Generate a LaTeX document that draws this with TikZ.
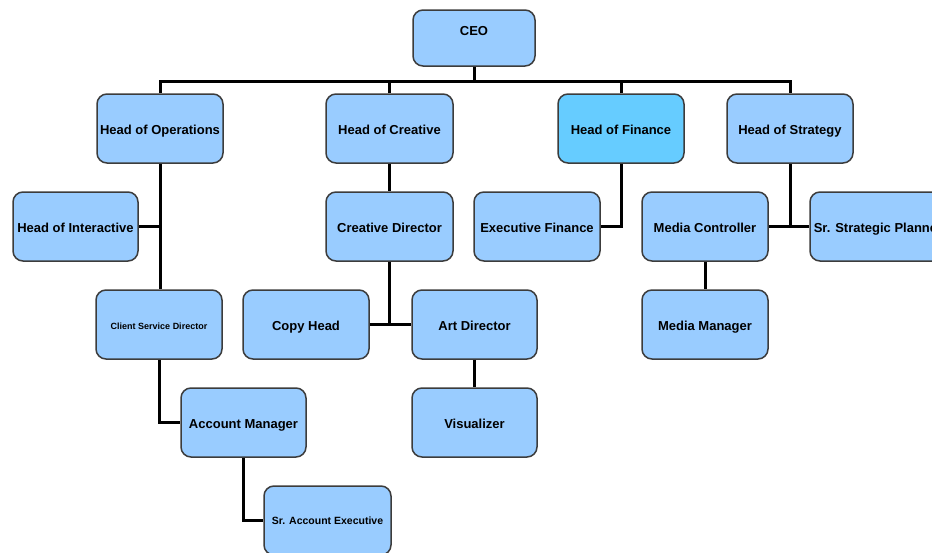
\documentclass[tikz,border=0pt]{standalone}
\usepackage{fontspec}
\setmainfont{Liberation Sans}
\definecolor{boxfill}{HTML}{99CCFF}
\definecolor{finfill}{HTML}{66CCFF}
\definecolor{boxline}{HTML}{3C3C3C}
\tikzset{
  box/.style={draw=boxline, line width=1.5pt, fill=boxfill, rounded corners=10pt,
    minimum width=126pt, minimum height=69pt, inner sep=0pt, align=center,
    text height=14pt, text depth=2.6pt,
    font=\fontsize{13}{15}\selectfont\bfseries},
  smallbox/.style={box, text height=10.8pt, text depth=1.8pt, font=\fontsize{9}{11}\selectfont\bfseries},
  midbox/.style={box, text height=10.7pt, text depth=2.1pt, font=\fontsize{10.5}{12}\selectfont\bfseries},
  link/.style={draw=black, line width=3pt}
}
\begin{document}
\begin{tikzpicture}[x=1pt,y=-1pt]
\useasboundingbox (0,0) rectangle (932,552);
% row 0
\node[box, minimum width=122pt, minimum height=56pt,
  label={[font=\fontsize{13}{15}\selectfont\bfseries, yshift=7pt]center:CEO}] (ceo) at (474,38) {};
% row 1
\node[box] (hop) at (160,128.5) {Head of Operations};
\node[box, minimum width=127pt] (hoc) at (389.5,128.5) {Head of Creative};
\node[box, fill=finfill] (hof) at (621,128.5) {Head of Finance};
\node[box] (hos) at (790,128.5) {Head of Strategy};
% row 2
\node[box, minimum width=125pt] (hoi) at (75.5,226.5) {Head of Interactive};
\node[box, minimum width=127pt] (cd) at (389.5,226.5) {Creative Director};
\node[box] (ef) at (537,226.5) {Executive Finance};
\node[box] (mc) at (705,226.5) {Media Controller};
\node[box, minimum width=136pt] (ssp) at (878,226.5) {Sr. Strategic Planner};
% row 3
\node[smallbox] (csd) at (159,324.5) {Client Service Director};
\node[box] (ch) at (306,324.5) {Copy Head};
\node[box, minimum width=125pt] (ad) at (474.5,324.5) {Art Director};
\node[box] (mm) at (705,324.5) {Media Manager};
% row 4
\node[box, minimum width=125pt] (am) at (243.5,422.5) {Account Manager};
\node[box, minimum width=125pt] (vis) at (474.5,422.5) {Visualizer};
% row 5
\node[midbox, minimum width=127pt] (sae) at (327.5,520.5) {Sr. Account Executive};
% connectors
\coordinate (bus) at (474,81);
\draw[link] (ceo.south) -- (bus);
\draw[link] (hop.north) |- (bus) -| (hos.north);
\draw[link] (hoc.north) -- (hoc.north |- bus);
\draw[link] (hof.north) -- (hof.north |- bus);
% operations
\draw[link] (hop.south) -- (hop.south |- csd.north);
\draw[link] (hoi.east) -- (hoi.east -| hop.south);
\draw[link] (csd.south) |- (am.west);
\draw[link] (am.south) |- (sae.west);
% creative
\draw[link] (hoc.south) -- (cd.north);
\draw[link] (cd.south) -- (cd.south |- ch.east);
\draw[link] (ch.east) -- (ad.west);
\draw[link] (ad.south) -- (vis.north);
% finance
\draw[link] (hof.south) |- (ef.east);
% strategy
\draw[link] (hos.south) -- (hos.south |- mc.east);
\draw[link] (mc.east) -- (ssp.west);
\draw[link] (mc.south) -- (mm.north);
\end{tikzpicture}
\end{document}
